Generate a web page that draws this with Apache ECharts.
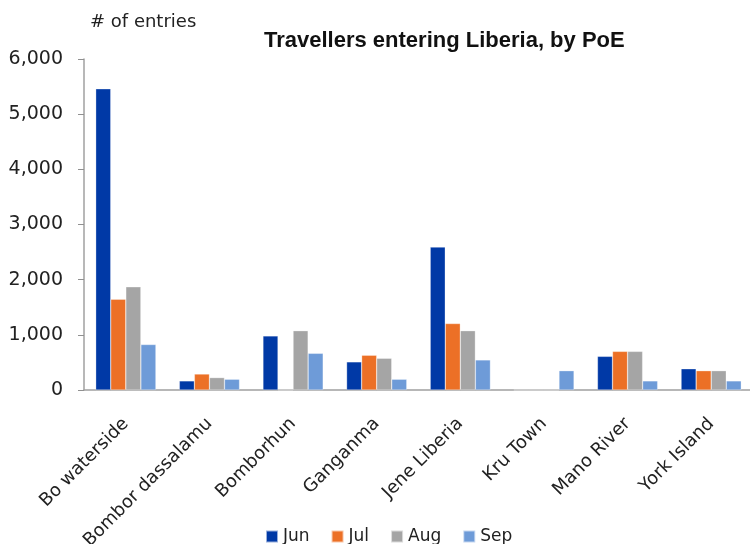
<!DOCTYPE html>
<html><head><meta charset="utf-8">
<script src="https://cdn.jsdelivr.net/npm/echarts@6/dist/echarts.min.js"></script>
<style>html,body{margin:0;padding:0;background:#fff;overflow:hidden}#c{width:750px;height:544px}</style>
</head><body><div id="c"></div>
<script>
const categories = ["Bo waterside","Bombor dassalamu","Bomborhun","Ganganma","Jene Liberia","Kru Town","Mano River","York Island"];
const jun = [5460, 165, 980, 510, 2590, 0, 610, 385];
const jul = [1645, 290, 0, 630, 1205, 0, 700, 350];
const aug = [1870, 225, 1075, 575, 1075, 0, 700, 350];
const sep = [825, 195, 665, 195, 545, 350, 165, 165];
const yTicks = [0, 1000, 2000, 3000, 4000, 5000, 6000];

const chart = echarts.init(document.getElementById('c'));
const font = 'DejaVu Sans';
function s(name, data, color){
  return {name, type:'bar', data, barGap:'0%', barCategoryGap:'28%',
    itemStyle:{color, borderColor:'rgba(255,255,255,0.6)', borderWidth:0.5}};
}
chart.setOption({
  animation:false,
  title:{text:'Travellers entering Liberia, by PoE', left:264, top:30, padding:0,
    textStyle:{fontFamily:'Liberation Sans', fontWeight:'bold', fontSize:22, color:'#111'}},
  graphic:[{type:'text', left:90, top:13, style:{text:'# of entries', font:'18px "DejaVu Sans"', fill:'#222'}}],
  legend:{top:528, left:265, padding:0, itemWidth:12, itemHeight:12, itemGap:21, icon:'rect',
    textStyle:{fontFamily:font, fontSize:17, color:'#222', lineHeight:17},
    data:['Jun','Jul','Aug','Sep']},
  grid:{left:84, top:59, width:669, height:331, containLabel:false, outerBoundsMode:'none'},
  xAxis:{type:'category', data:categories,
    axisLine:{lineStyle:{color:'#A0A0A0', width:1.5}},
    axisTick:{length:6, lineStyle:{color:'#909090'}},
    axisLabel:{rotate:45, fontFamily:font, fontSize:18, color:'#222', margin:31, interval:0}},
  yAxis:{type:'value', min:yTicks[0], max:yTicks[yTicks.length-1], interval:1000,
    axisLine:{show:true, lineStyle:{color:'#A0A0A0', width:1.5}},
    axisTick:{show:true, length:6, lineStyle:{color:'#909090'}},
    splitLine:{show:false},
    axisLabel:{fontFamily:font, fontSize:19, color:'#222', margin:21,
      formatter:v=>v.toLocaleString('en-US')}},
  series:[s('Jun',jun,'#0039A6'), s('Jul',jul,'#EC7026'), s('Aug',aug,'#A5A5A5'), s('Sep',sep,'#6E9BD8')]
});
</script></body></html>
